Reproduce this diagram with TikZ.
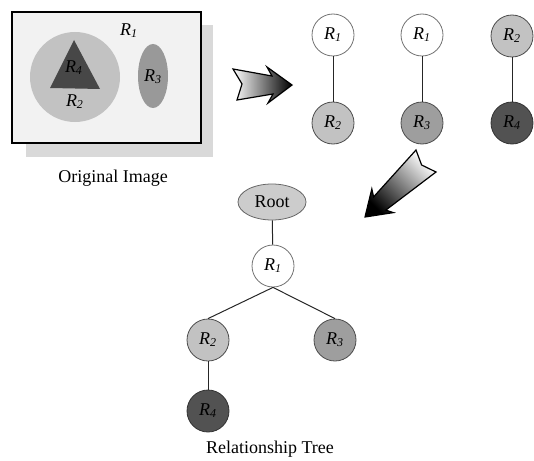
\documentclass[tikz,border=0pt]{standalone}
\usepackage{fontspec}
\setmainfont{Liberation Serif}
\usetikzlibrary{shapes.geometric}

\newcommand{\Rlab}[1]{\textit{R}\textsubscript{\textit{#1}}}

\tikzset{
  lbl/.style={font=\fontsize{9}{10}\selectfont, inner sep=0pt},
  region/.style={circle, minimum size=21pt, inner sep=0pt, line width=0.4pt,
                 font=\fontsize{9}{10}\selectfont},
  rone/.style={region, draw=black!55, fill=white},
  rtwo/.style={region, draw=black!70, fill=black!24},
  rthree/.style={region, draw=black!70, fill=black!38},
  rfour/.style={region, draw=black!80, fill=black!68},
  rootnode/.style={ellipse, minimum width=34pt, minimum height=18pt, inner sep=0pt,
                   draw=black!60, fill=black!20, line width=0.4pt,
                   font=\fontsize{9}{10}\selectfont},
  link/.style={draw=black!85, line width=0.5pt},
  caption/.style={font=\fontsize{9}{10}\selectfont, inner sep=0pt}
}

\begin{document}
\begin{tikzpicture}[x=0.5pt, y=-0.5pt]
\useasboundingbox (0,0) rectangle (534,460);

% ---- original image panel with its drop shadow ----
\fill[black!15] (26,25) rectangle (213,157);
\filldraw[fill=black!5, draw=black, line width=0.8pt] (12,12) rectangle (201,143);
\fill[black!24] (75,77) circle (45);
\fill[black!72] (74,40) -- (100,89) -- (50,88) -- cycle;
\fill[black!40] (153,76) ellipse (15 and 32);
\node[lbl] (imgR1) at (129,31) {\Rlab{1}};
\node[lbl] (imgR4) at (74,68) {\Rlab{4}};
\node[lbl] (imgR2) at (75,102) {\Rlab{2}};
\node[lbl] (imgR3) at (153,77) {\Rlab{3}};
\node[caption] (capimg) at (113,178) {Original Image};

% ---- first block arrow ----
\shade[left color=white, right color=black, draw=black, line width=0.6pt]
  (233,69) -- (272,76) -- (267,67) -- (292,85) -- (268,103) -- (273,94)
  -- (237,100) -- (242,84) -- cycle;

% ---- parent/child pairs ----
\node[rone]  (pa1) at (333,35)  {\Rlab{1}};
\node[rtwo]  (pa2) at (333,123) {\Rlab{2}};
\node[rone]  (pb1) at (422,35)  {\Rlab{1}};
\node[rthree](pb2) at (422,123) {\Rlab{3}};
\node[rtwo]  (pc1) at (512,36)  {\Rlab{2}};
\node[rfour] (pc2) at (512,123) {\Rlab{4}};
\draw[link] (pa1) -- (pa2);
\draw[link] (pb1) -- (pb2);
\draw[link] (pc1) -- (pc2);

% ---- second block arrow ----
\shade[top color=white, bottom color=black, shading angle=-45,
       draw=black, line width=0.6pt]
  (416,150) -- (421.6,165) -- (436,172) -- (385.8,210.1) -- (393.4,212.6)
  -- (365,217) -- (371.8,189) -- (373.6,196.9) -- cycle;

% ---- relationship tree ----
\node[rootnode] (root) at (272,202) {Root};
\node[rone]   (t1) at (273,266) {\Rlab{1}};
\node[rtwo]   (t2) at (208,340) {\Rlab{2}};
\node[rthree] (t3) at (335,340) {\Rlab{3}};
\node[rfour]  (t4) at (208,411) {\Rlab{4}};
\draw[link] (root) -- (t1);
\draw[link] (t1.south) -- (t2.north);
\draw[link] (t1.south) -- (t3.north);
\draw[link] (t2) -- (t4);
\node[caption] (captree) at (270,449) {Relationship Tree};
\end{tikzpicture}
\end{document}
